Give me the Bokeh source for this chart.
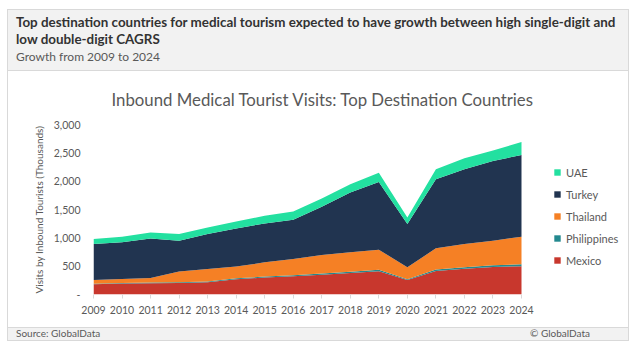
from bokeh.plotting import figure
from bokeh.models import Range1d, FixedTicker, Legend, LegendItem, ColumnDataSource, NumeralTickFormatter, Div
from bokeh.layouts import column
from bokeh.embed import file_html
from bokeh.resources import INLINE

# ---- data (thousands of visits) ----
years = list(range(2009, 2025))
mexico = [180, 195, 200, 205, 217, 270, 300, 320, 350, 380, 410, 255, 415, 455, 485, 500]
philippines = [10, 10, 12, 12, 14, 15, 16, 18, 20, 22, 25, 15, 25, 28, 30, 35]
thailand = [68, 70, 81, 187, 220, 207, 252, 289, 327, 342, 356, 210, 375, 408, 434, 485]
turkey = [633, 645, 697, 546, 615, 674, 686, 691, 850, 1055, 1196, 762, 1218, 1318, 1407, 1441]
uae = [88, 100, 106, 116, 118, 123, 135, 147, 147, 147, 163, 118, 176, 194, 187, 229]

series_names = ["Mexico", "Philippines", "Thailand", "Turkey", "UAE"]
series_colors = ["#c8372d", "#23898f", "#f58025", "#213450", "#23e0a0"]
y_ticks = [0, 500, 1000, 1500, 2000, 2500, 3000]

headline_1 = "Top destination countries for medical tourism expected to have growth between high single-digit and"
headline_2 = "low double-digit CAGRS"
subtitle = "Growth from 2009 to 2024"
chart_title = "Inbound Medical Tourist Visits: Top Destination Countries"
y_label = "Visits by Inbound Tourists (Thousands)"
source_txt = "Source: GlobalData"
copy_txt = "\u00a9 GlobalData"

FONT = "Lato"
TXT = "#595959"
W = 620
BL, BR = 85, 8
# plot area extends right of 2024 to leave room for the legend (same px per year)
x_end = 2009 + 15 * (W - BL - BR) / 428.0

# ---- header ----
hdr_html = (
    f"<div style='position:relative;width:{W}px;height:61px;box-sizing:border-box;"
    f"background:#f2f2f2;border-bottom:1px solid #d9d9d9;font-family:{FONT};'>"
    f"<div style='position:absolute;left:8px;top:4px;font-size:13.4px;font-weight:bold;"
    f"color:#333333;line-height:17px;white-space:nowrap;'>{headline_1}<br>{headline_2}</div>"
    f"<div style='position:absolute;left:8px;top:40px;font-size:12px;color:{TXT};"
    f"line-height:14px;white-space:nowrap;'>{subtitle}</div></div>"
)
hdr = Div(text=hdr_html, width=W, height=61, margin=0)

# ---- main chart ----
src = ColumnDataSource(dict(year=years, Mexico=mexico, Philippines=philippines,
                            Thailand=thailand, Turkey=turkey, UAE=uae))
p = figure(width=W, height=256, x_range=Range1d(2009, x_end), y_range=Range1d(0, 3000),
           output_backend="svg", toolbar_location=None, margin=0,
           min_border_left=BL, min_border_right=BR, min_border_top=52, min_border_bottom=33,
           background_fill_color="white", border_fill_color="white", outline_line_color=None)
rends = p.varea_stack(stackers=series_names, x="year", color=series_colors, source=src)

p.title.text = chart_title
p.title.align = "left"
p.title.text_font = FONT
p.title.text_font_size = "16.8px"
p.title.text_font_style = "normal"
p.title.text_color = TXT
p.title.offset = 18
p.title.standoff = 30

p.grid.visible = False
p.yaxis.ticker = FixedTicker(ticks=y_ticks)
p.yaxis.formatter = NumeralTickFormatter(format="0,0")
p.yaxis.major_label_overrides = {0: "-"}
p.yaxis.axis_line_color = None
p.yaxis.major_tick_line_color = None
p.yaxis.minor_tick_line_color = None
p.yaxis.axis_label = y_label
p.yaxis.axis_label_text_font = FONT
p.yaxis.axis_label_text_font_style = "normal"
p.yaxis.axis_label_text_font_size = "10px"
p.yaxis.axis_label_text_color = TXT
p.yaxis.axis_label_standoff = 6
p.yaxis.major_label_standoff = 7
p.yaxis.major_label_text_font = FONT
p.yaxis.major_label_text_font_size = "10.5px"
p.yaxis.major_label_text_color = TXT

p.xaxis.ticker = FixedTicker(ticks=years)
p.xaxis.axis_line_color = None
p.xaxis.major_tick_line_color = "#d9d9d9"
p.xaxis.major_tick_in = 0
p.xaxis.major_tick_out = 4
p.xaxis.minor_tick_line_color = None
p.xaxis.major_label_standoff = 7
p.xaxis.major_label_text_font = FONT
p.xaxis.major_label_text_font_size = "10.5px"
p.xaxis.major_label_text_color = TXT

items = [LegendItem(label=n, renderers=[r]) for n, r in zip(series_names, rends)][::-1]
legend = Legend(items=items, location=(460, 23), padding=0, spacing=0, margin=0,
                glyph_width=8, glyph_height=8, label_height=22, label_standoff=5,
                label_text_font=FONT, label_text_font_size="11px", label_text_color=TXT,
                border_line_color=None, background_fill_alpha=0)
p.add_layout(legend, "center")

# ---- footer ----
ftr_html = (
    f"<div style='position:relative;width:{W}px;height:13px;box-sizing:border-box;"
    f"background:#f2f2f2;border-top:1px solid #d9d9d9;font-family:{FONT};font-size:10px;"
    f"color:{TXT};line-height:11px;'>"
    f"<div style='position:absolute;left:8px;top:0px;white-space:nowrap;'>{source_txt}</div>"
    f"<div style='position:absolute;right:38px;top:0px;white-space:nowrap;'>{copy_txt}</div></div>"
)
ftr = Div(text=ftr_html, width=W, height=13, margin=0)

layout = column(hdr, p, ftr, margin=(10, 12, 13, 8), spacing=0,
                styles={"outline": "1px solid #d9d9d9"})
open("out.html", "w").write(file_html(layout, INLINE))
